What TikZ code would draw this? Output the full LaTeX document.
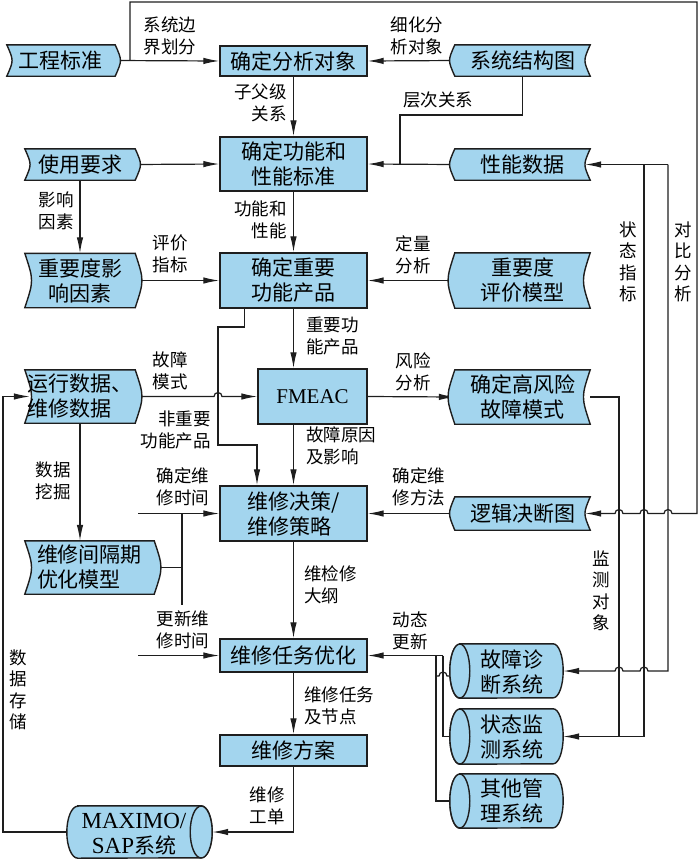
\documentclass[tikz,border=0pt]{standalone}
\usepackage{fontspec}
\setmainfont{Liberation Serif}
\newfontfamily\cjk{Noto Sans CJK SC}
\usetikzlibrary{arrows.meta,calc}
\pgfdeclarelayer{bg}\pgfdeclarelayer{mid}
\pgfsetlayers{bg,mid,main}
\definecolor{boxc}{RGB}{163,213,238}
\definecolor{linec}{RGB}{30,30,30}
\newcommand\boxfont{\cjk\fontsize{21}{25}\selectfont}
\newcommand\labfont{\cjk\fontsize{17.5}{21.5}\selectfont}
\newcommand\latf{\rmfamily}
\tikzset{
  ln/.style={draw=linec,line width=1.2pt},
  arr/.style={ln,-{Latex[length=16pt,width=6.5pt]}},
  cbox/.style={draw=linec,line width=1.4pt,fill=boxc,inner sep=0pt,minimum width=147pt,font=\boxfont,align=center},
  sdbox/.style={inner sep=0pt,font=\boxfont,align=center},
  shp/.style={draw=linec,line width=1.4pt,fill=boxc},
  lab/.style={inner sep=0pt,font=\labfont,align=center},
}
\newcommand\sdR[2]{\path[shp] (#1.north west) -- (#1.north east) .. controls ([xshift=#2pt]#1.east) .. (#1.south east) -- (#1.south west) .. controls ([xshift=#2pt]#1.west) .. cycle;}
\newcommand\sdL[2]{\path[shp] (#1.north west) -- (#1.north east) .. controls ([xshift=-#2pt]#1.east) .. (#1.south east) -- (#1.south west) .. controls ([xshift=-#2pt]#1.west) .. cycle;}
\newcommand\cyl[5]{%
 \path[shp] ([xshift=#2pt]#1.north west) -- ([xshift=-#2pt]#1.north east) arc[start angle=90,end angle=-90,x radius=#2pt,y radius=#3pt] -- ([xshift=#2pt]#1.south west) arc[start angle=270,end angle=90,x radius=#2pt,y radius=#3pt] -- cycle;
 \path[shp] ([xshift=#4pt]#1.#5) ellipse[x radius=#2pt,y radius=#3pt];}
\begin{document}
\begin{tikzpicture}[x=1pt,y=-1pt]
\useasboundingbox (0,0) rectangle (700,860);
% left column
\node[sdbox,minimum width=108pt,minimum height=31pt] (gcbz) at (61,60.5) {工程标准};
\node[sdbox,minimum width=110pt,minimum height=31pt] (syyq) at (80,164.5) {使用要求};
\node[sdbox,minimum width=110pt,minimum height=54pt] (zydyx) at (80,280.5) {重要度影\\响因素};
\node[sdbox,minimum width=110pt,minimum height=53pt,align=left] (yxsj) at (80,396.5) {运行数据、\\维修数据};
\node[sdbox,minimum width=129pt,minimum height=53pt,align=left] (wxjg) at (89.5,567.5) {维修间隔期\\优化模型};
% center column
\node[cbox,minimum height=30pt] (dxdx) at (293.5,61) {确定分析对象};
\node[cbox,minimum height=54pt] (gnbz) at (293.5,164) {确定功能和\\性能标准};
\node[cbox,minimum height=55pt] (zygn) at (293.5,280.5) {确定重要\\功能产品};
\node[cbox,minimum width=109pt,minimum height=55pt,font=\latf\fontsize{21}{25}\selectfont] (fmeac) at (312.5,396.5) {FMEAC};
\node[cbox,minimum height=55pt,align=left] (wxjc) at (293.5,513.5) {维修决策/\\维修策略};
\node[cbox,minimum height=33pt] (rwyh) at (293.5,655.5) {维修任务优化};
\node[cbox,minimum height=31pt] (wxfa) at (293.5,750.5) {维修方案};
% right column
\node[sdbox,minimum width=135pt,minimum height=31pt] (xtjg) at (522.5,60.5) {系统结构图};
\node[sdbox,minimum width=135pt,minimum height=31pt] (xnsj) at (522.5,164.5) {性能数据};
\node[sdbox,minimum width=135pt,minimum height=55pt] (zydpj) at (522.5,280.5) {重要度\\评价模型};
\node[sdbox,minimum width=135pt,minimum height=54pt] (gfx) at (522.5,397) {确定高风险\\故障模式};
\node[sdbox,minimum width=135pt,minimum height=33pt] (ljjd) at (522.5,513.5) {逻辑决断图};
% cylinders
\node[inner sep=0pt,minimum width=113pt,minimum height=54pt] (gzzd) at (506.5,671) {};
\node[sdbox] (gzzdt) at (512,672) {故障诊\\断系统};
\node[inner sep=0pt,minimum width=113pt,minimum height=55pt] (ztjc) at (506.5,736.5) {};
\node[sdbox] (ztjct) at (512,737) {状态监\\测系统};
\node[inner sep=0pt,minimum width=113pt,minimum height=54pt] (qtgl) at (506.5,801) {};
\node[sdbox] (qtglt) at (512,801) {其他管\\理系统};
\node[inner sep=0pt,minimum width=145pt,minimum height=52pt] (maximo) at (139.5,832) {};
\node[sdbox] (maximot) at (134,834) {{\latf\fontsize{23}{25}\selectfont MAXIMO/}\\{\latf\fontsize{23}{25}\selectfont SAP}系统};
% labels
\node[lab] (l1) at (170,36) {系统边\\界划分};
\node[lab] (l2) at (417,36) {细化分\\析对象};
\node[lab,anchor=east,align=right] (l3) at (287,103) {子父级\\关系};
\node[lab] (l4) at (438,100) {层次关系};
\node[lab] (l5) at (56,211) {影响\\因素};
\node[lab,anchor=east,align=right] (l6) at (287,220) {功能和\\性能};
\node[lab] (l7) at (170,254) {评价\\指标};
\node[lab] (l8) at (413,255) {定量\\分析};
\node[lab,anchor=west,align=left] (l9) at (306,336) {重要功\\能产品};
\node[lab] (l10) at (170,371) {故障\\模式};
\node[lab] (l11) at (413,372) {风险\\分析};
\node[lab,anchor=east,align=right] (l12) at (211,430) {非重要\\功能产品};
\node[lab,anchor=west,align=left] (l13) at (306,446) {故障原因\\及影响};
\node[lab] (l14) at (183,487) {确定维\\修时间};
\node[lab] (l15) at (419,487) {确定维\\修方法};
\node[lab] (l16) at (53,481) {数据\\挖掘};
\node[lab,anchor=west,align=left] (l17) at (304,585) {维检修\\大纲};
\node[lab] (l18) at (183,630) {更新维\\修时间};
\node[lab] (l19) at (410,631) {动态\\更新};
\node[lab,anchor=west,align=left] (l20) at (304,706) {维修任务\\及节点};
\node[lab] (l21) at (267,806) {维修\\工单};
\node[lab] (l22) at (18,690) {数\\据\\存\\储};
\node[lab] (l23) at (628,262) {状\\态\\指\\标};
\node[lab] (l24) at (683,262) {对\\比\\分\\析};
\node[lab] (l25) at (601,591) {监\\测\\对\\象};
% shapes
\begin{pgfonlayer}{mid}
\sdR{gcbz}{7} \sdR{syyq}{7} \sdR{zydyx}{9} \sdR{yxsj}{9} \sdR{wxjg}{9}
\sdL{xtjg}{7} \sdL{xnsj}{7} \sdL{zydpj}{9} \sdL{gfx}{9} \sdL{ljjd}{7}
\cyl{gzzd}{10}{27}{10}{west}
\cyl{ztjc}{10}{27.5}{10}{west}
\cyl{qtgl}{10}{27}{10}{west}
\cyl{maximo}{11}{26}{-11}{east}
\end{pgfonlayer}
% connectors
\begin{pgfonlayer}{bg}
\coordinate (t1) at (130,2); \coordinate (t2) at (697,2);
\coordinate (v1) at (619,0); \coordinate (v2) at (644,0); \coordinate (v3) at (668,0);
\coordinate (t0) at (t1 |- gcbz.east);
\coordinate (t3) at (t2 |- ljjd.east);
\coordinate (h3) at (v3 |- ljjd.east);
\coordinate (h2) at (v2 |- ljjd.east);
\coordinate (h1) at (v1 |- ljjd.east);
\draw[arr] (gcbz.east) -- (dxdx.west);
\draw[arr] (t0) -- (t1) -- (t2) -- (t3) -- ([xshift=4pt]h3) arc[start angle=0,end angle=180,radius=4pt] -- ([xshift=4pt]h2) arc[start angle=0,end angle=180,radius=4pt] -- ([xshift=4pt]h1) arc[start angle=0,end angle=180,radius=4pt] -- ([xshift=-5pt]ljjd.east);
\draw[arr] (xtjg.west) -- (dxdx.east);
\draw[arr] (dxdx.south) -- (gnbz.north);
\coordinate (c1) at (400,115);
\coordinate (c2) at (c1 |- gnbz.east);
\draw[ln] (xtjg.south) |- (c1) -- (c2);
\draw[arr] (xnsj.west) -- (gnbz.east);
\draw[arr] (syyq.east) -- (gnbz.west);
\draw[arr] (syyq.south) -- (zydyx.north);
\draw[arr] (gnbz.south) -- (zygn.north);
\draw[arr] (zydyx.east) -- (zygn.west);
\draw[arr] (zydpj.west) -- (zygn.east);
\coordinate (f1) at (zygn.south |- fmeac.north);
\coordinate (f2) at (zygn.south |- fmeac.south);
\coordinate (f3) at (zygn.south |- wxjc.north);
\draw[arr] (zygn.south) -- (f1);
\coordinate (n1) at ([xshift=25pt]zygn.south west);
\coordinate (n2) at (218,327);
\coordinate (n3) at (257,445);
\coordinate (n4) at (n3 |- wxjc.north);
\draw[arr] (n1) |- (n2) |- (n3) -- (n4);
\coordinate (h0) at (n2 |- yxsj.east);
\draw[arr] (yxsj.east) -- ([xshift=-4pt]h0) arc[start angle=180,end angle=0,radius=4pt] -- (fmeac.west);
\draw[arr] (fmeac.east) -- (gfx.west);
\draw[arr] (f2) -- (f3);
\draw[arr] (ljjd.west) -- (wxjc.east);
\coordinate (y1) at (yxsj.south |- wxjg.north);
\draw[arr] (yxsj.south) -- (y1);
\coordinate (m1) at (182,513.5); \coordinate (m2) at (182,605);
\coordinate (m0) at (138,513.5); \coordinate (m3) at (138,655.5);
\coordinate (m4) at (m1 |- wxjg.east);
\draw[ln] (wxjg.east) -- (m4);
\draw[ln] (m1) -- (m2);
\draw[arr] (m0) -- (wxjc.west);
\draw[arr] (m3) -- (rwyh.west);
\draw[arr] (wxjc.south) -- (rwyh.north);
\coordinate (k1) at (443,655.5); \coordinate (k2) at (436,655.5);
\draw[arr] (k1) -- (rwyh.east);
\draw[ln] (k1) |- (ztjc.west);
\draw[ln] (k2) |- (qtgl.west);
\coordinate (k3) at (436,676);
\coordinate (k4) at (k1 |- k3);
\coordinate (k5) at (gzzd.west |- k3);
\draw[ln] (k3) -- ([xshift=-4pt]k4) arc[start angle=180,end angle=0,radius=4pt] -- ([xshift=5pt]k5);
\draw[arr] (rwyh.south) -- (wxfa.north);
\draw[arr] (wxfa.south) |- (maximo.east);
\coordinate (s1) at (3,0);
\coordinate (s2) at (s1 |- yxsj.west);
\draw[arr] (maximo.west) -| (s2) -- ([xshift=5pt]yxsj.west);
\coordinate (w1) at (v1 |- ztjc.east);
\draw[ln] (gfx.east) -| (w1);
\coordinate (w2) at (v2 |- xnsj.east); \coordinate (w3) at (v2 |- ztjc.east);
\draw[arr] (w2) -- (w3) -- (ztjc.east);
\coordinate (w4) at (v3 |- xnsj.east); \coordinate (w5) at (v3 |- gzzd.east);
\coordinate (w6) at (v2 |- gzzd.east); \coordinate (w7) at (v1 |- gzzd.east);
\draw[arr] (w4) -- ([xshift=-5pt]xnsj.east);
\draw[arr] (w4) -- (w5) -- ([xshift=4pt]w6) arc[start angle=0,end angle=180,radius=4pt] -- ([xshift=4pt]w7) arc[start angle=0,end angle=180,radius=4pt] -- (gzzd.east);
\end{pgfonlayer}
\end{tikzpicture}
\end{document}
